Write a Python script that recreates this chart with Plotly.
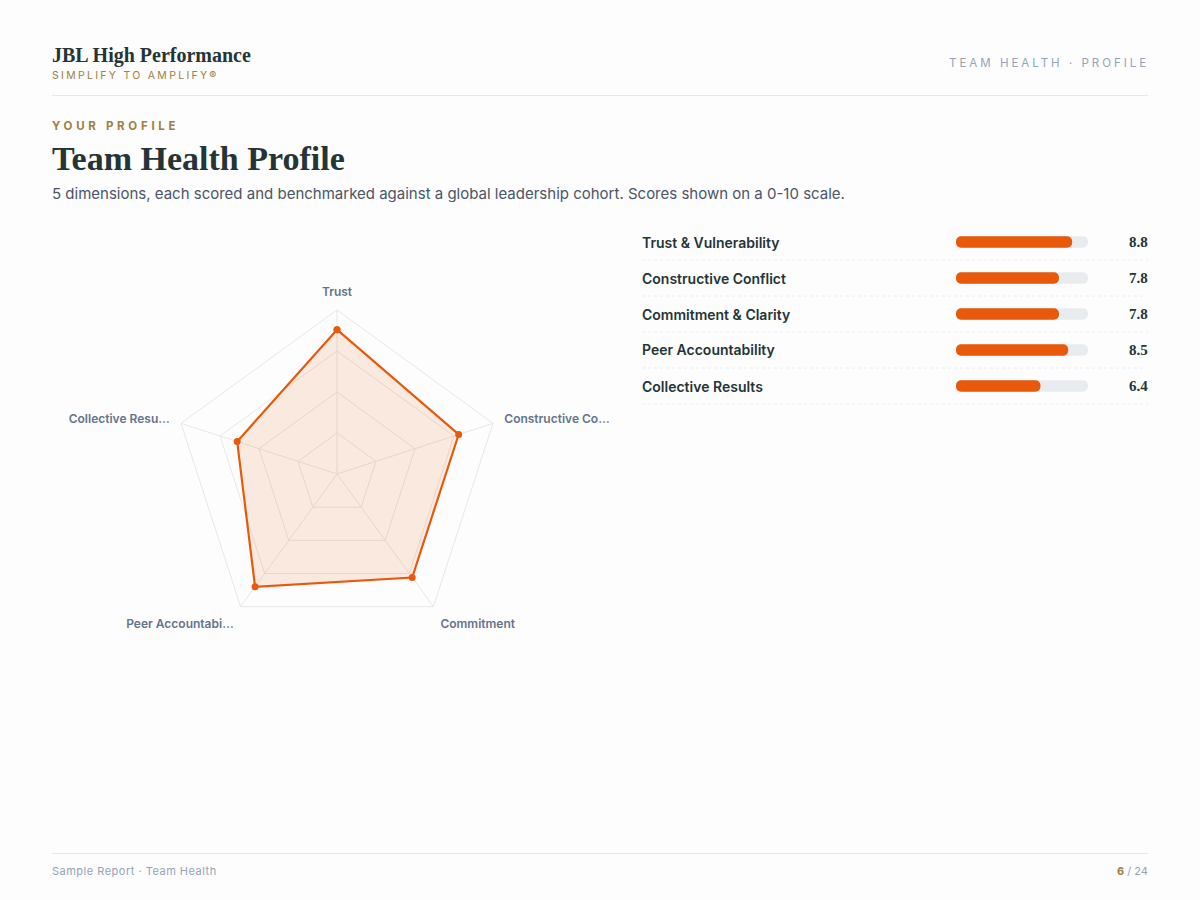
import plotly.graph_objects as go

# ---------------- data ----------------
dimensions = ["Trust & Vulnerability", "Constructive Conflict", "Commitment & Clarity",
              "Peer Accountability", "Collective Results"]
radar_labels = ["Trust", "Constructive Co…", "Commitment", "Peer Accountabi…", "Collective Resu…"]
scores = [8.8, 7.8, 7.8, 8.5, 6.4]
scale_max = 10
radial_ticks = [2.5, 5, 7.5]

# ---------------- style ----------------
W, H = 1200, 900
BG = "#fdfdfd"
ORANGE = "#e8590c"
GOLD = "#a0803f"
DARK = "#243437"
SLATE = "#64748b"
MUTED = "#94a3b8"
TRACK = "#e9ecef"
LINE = "#e5e7eb"
SANS = "Inter, Roboto, sans-serif"
SERIF = "Liberation Serif, serif"
PAD = 2  # annotation inner padding in px


def px(x):
    return x / W


def py(y):
    return 1 - y / H


def spaced(text, sp):
    return f"<span style='letter-spacing:{sp}px'>{text}</span>"


fig = go.Figure()

# ---------------- radar ----------------
theta_closed = radar_labels + [radar_labels[0]]
r_closed = scores + [scores[0]]
fig.add_trace(go.Scatterpolar(
    r=r_closed, theta=theta_closed, mode="lines+markers",
    fill="toself", fillcolor="rgba(232,89,12,0.12)",
    line=dict(color=ORANGE, width=2.2),
    marker=dict(color=ORANGE, size=7),
    hoverinfo="skip", showlegend=False,
))

cx, cy, rad = 337, 474, 164
fig.update_layout(polar=dict(
    domain=dict(x=[px(cx - rad), px(cx + rad)], y=[py(cy + rad), py(cy - rad)]),
    bgcolor="rgba(0,0,0,0)",
    gridshape="linear",
    radialaxis=dict(range=[0, scale_max], tickvals=radial_ticks, showticklabels=False,
                    ticks="", showline=False, gridcolor=LINE, gridwidth=1),
    angularaxis=dict(direction="clockwise", rotation=90, showline=True,
                     linecolor=LINE, linewidth=1, gridcolor=LINE,
                     ticks="outside", ticklen=9, tickcolor="rgba(0,0,0,0)",
                     tickfont=dict(family=SANS, size=12, color=SLATE, weight=600)),
))

# ---------------- bars ----------------
row_top, row_h = 224, 36
n = len(dimensions)
bar_x0, bar_x1 = 956, 1088
ypos = list(range(n))
thick = 0.32
zero_base = [0] * n

fig.add_trace(go.Bar(
    y=ypos, x=[scale_max] * n, base=zero_base, orientation="h",
    marker=dict(color=TRACK, cornerradius="50%", line=dict(width=0)),
    width=thick, xaxis="x", yaxis="y", hoverinfo="skip", showlegend=False))
fig.add_trace(go.Bar(
    y=ypos, x=scores, base=zero_base, orientation="h",
    marker=dict(color=ORANGE, cornerradius="50%", line=dict(width=0)),
    width=thick, xaxis="x", yaxis="y", hoverinfo="skip", showlegend=False))

fig.update_layout(
    barmode="overlay",
    xaxis=dict(domain=[px(bar_x0), px(bar_x1)], range=[0, scale_max], visible=False,
               fixedrange=True),
    yaxis=dict(domain=[py(row_top + n * row_h), py(row_top)], range=[n - 0.5, -0.5],
               visible=False, fixedrange=True),
)

annotations = []
shapes = []
for i, (name, s) in enumerate(zip(dimensions, scores)):
    yc = row_top + row_h * i + row_h / 2
    annotations.append(dict(x=px(642 - PAD), y=py(yc), xref="paper", yref="paper", text=name,
                            showarrow=False, xanchor="left", yanchor="middle",
                            font=dict(family=SANS, size=14, color=DARK, weight=600)))
    annotations.append(dict(x=px(1148 + PAD), y=py(yc), xref="paper", yref="paper",
                            text=f"{s:.1f}", showarrow=False, xanchor="right", yanchor="middle",
                            font=dict(family=SERIF, size=15, color=DARK, weight="bold")))
    ly = row_top + row_h * (i + 1)
    shapes.append(dict(type="line", xref="paper", yref="paper", x0=px(642), x1=px(1148),
                       y0=py(ly), y1=py(ly), line=dict(color="#eceef1", width=1, dash="dot")))

# ---------------- header / footer ----------------
annotations += [
    dict(x=px(52 - PAD), y=py(55), text="JBL High Performance",
         font=dict(family=SERIF, size=20, color=DARK, weight="bold"), xanchor="left"),
    dict(x=px(52 - PAD), y=py(76), text=spaced("SIMPLIFY TO AMPLIFY®", 2.3),
         font=dict(family=SANS, size=10.5, color=GOLD), xanchor="left"),
    dict(x=px(1148 + PAD + 1), y=py(63), text=spaced("TEAM HEALTH · PROFILE", 3),
         font=dict(family=SANS, size=11.5, color=MUTED), xanchor="right"),
    dict(x=px(52 - PAD), y=py(126), text=spaced("YOUR PROFILE", 3.7),
         font=dict(family=SANS, size=11.5, color=GOLD, weight="bold"), xanchor="left"),
    dict(x=px(52 - PAD), y=py(158), text="Team Health Profile",
         font=dict(family=SERIF, size=34, color=DARK, weight="bold"), xanchor="left"),
    dict(x=px(52 - PAD), y=py(193),
         text="5 dimensions, each scored and benchmarked against a global leadership cohort. Scores shown on a 0-10 scale.",
         font=dict(family=SANS, size=15, color="#4a5568"), xanchor="left"),
    dict(x=px(52 - PAD), y=py(871), text=spaced("Sample Report · Team Health", 0.5),
         font=dict(family=SANS, size=11, color=MUTED), xanchor="left"),
    dict(x=px(1148 + PAD), y=py(871),
         text=f"<b><span style='color:{GOLD}'>6</span></b> / 24",
         font=dict(family=SANS, size=11, color=MUTED), xanchor="right"),
]
for a in annotations[-8:]:
    a.update(xref="paper", yref="paper", showarrow=False, yanchor="middle")

shapes += [
    dict(type="line", xref="paper", yref="paper", x0=px(52), x1=px(1148), y0=py(95.5), y1=py(95.5),
         line=dict(color=LINE, width=1)),
    dict(type="line", xref="paper", yref="paper", x0=px(52), x1=px(1148), y0=py(853.5), y1=py(853.5),
         line=dict(color=LINE, width=1)),
]

fig.update_layout(
    width=W, height=H, margin=dict(l=0, r=0, t=0, b=0),
    paper_bgcolor=BG, plot_bgcolor="rgba(0,0,0,0)",
    annotations=annotations, shapes=shapes, showlegend=False,
)

fig.write_html("out.html", config={"displayModeBar": False})
